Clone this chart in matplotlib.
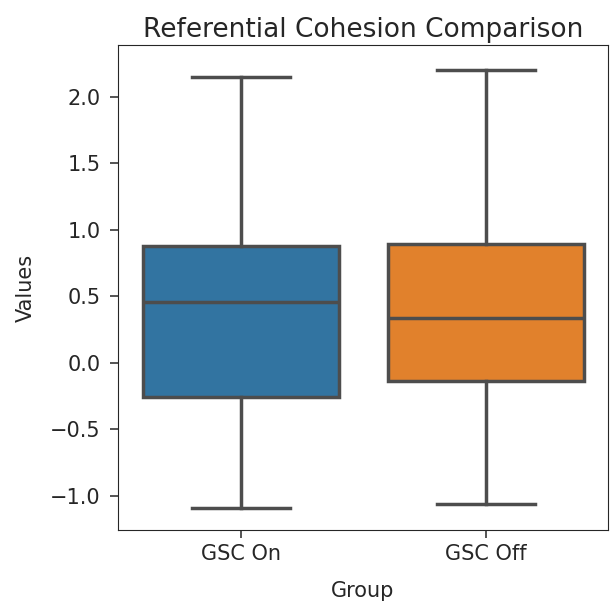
import matplotlib
matplotlib.use("Agg")
import matplotlib.pyplot as plt

groups = ["GSC On", "GSC Off"]
whislo = [-1.09, -1.06]
q1 = [-0.256, -0.135]
med = [0.459, 0.338]
q3 = [0.88, 0.895]
whishi = [2.15, 2.20]
colors = ["#3274a1", "#e1812c"]

tc = "#262626"
plt.rcParams.update({"text.color": tc, "axes.labelcolor": tc,
                     "xtick.color": tc, "ytick.color": tc,
                     "axes.edgecolor": tc})

fig = plt.figure(figsize=(6.13, 6.02), dpi=100)
ax = fig.add_axes([0.1925, 0.1196, 0.7995, 0.8056])

stats = [dict(whislo=a, q1=b, med=c, q3=d, whishi=e, fliers=[], label=g)
         for a, b, c, d, e, g in zip(whislo, q1, med, q3, whishi, groups)]
lc = "#4d4d4d"
bp = ax.bxp(stats, positions=[0, 1], widths=0.8, patch_artist=True,
            showfliers=False,
            boxprops=dict(edgecolor=lc, linewidth=2.5),
            whiskerprops=dict(color=lc, linewidth=2.5),
            capprops=dict(color=lc, linewidth=2.5),
            medianprops=dict(color=lc, linewidth=2.5))
for patch, c in zip(bp["boxes"], colors):
    patch.set_facecolor(c)
for cap in bp["caps"]:
    x = cap.get_xdata()
    m = (x[0] + x[1]) / 2
    cap.set_xdata([m - 0.2, m + 0.2])

ax.set_xlim(-0.5, 1.5)
ax.set_ylim(-1.256, 2.39)
ax.set_yticks([-1.0, -0.5, 0.0, 0.5, 1.0, 1.5, 2.0])
ax.set_xticks([0, 1])
ax.set_xticklabels(groups)
ax.tick_params(labelsize=15, length=5.5, width=1.1)
ax.tick_params(axis="y", pad=7)
ax.tick_params(axis="x", pad=4.5)
ax.set_xlabel("Group", fontsize=15, labelpad=12)
ax.set_ylabel("Values", fontsize=15, labelpad=10)
ax.set_title("Referential Cohesion Comparison", fontsize=19)
fig.savefig("out.png", dpi=100)
